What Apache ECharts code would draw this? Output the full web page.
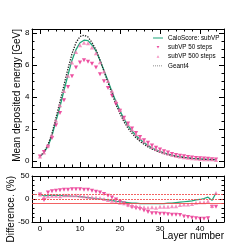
<!DOCTYPE html>
<html><head><meta charset="utf-8">
<script src="https://cdn.jsdelivr.net/npm/echarts@6/dist/echarts.min.js"></script>
<style>html,body{margin:0;padding:0;background:#fff}#c{width:249px;height:249px}</style>
</head><body><div id="c"></div>
<script>
const layers = [0,1,2,3,4,5,6,7,8,9,10,11,12,13,14,15,16,17,18,19,20,21,22,23,24,25,26,27,28,29,30,31,32,33,34,35,36,37,38,39,40,41,42,43,44];
const geant4 = [0.30,0.55,1.02,1.72,2.72,3.70,4.75,5.78,6.70,7.40,7.78,7.86,7.75,7.40,6.95,6.30,5.60,4.90,4.20,3.52,2.95,2.45,2.05,1.72,1.45,1.23,1.04,0.88,0.74,0.63,0.54,0.46,0.39,0.33,0.28,0.24,0.21,0.18,0.155,0.135,0.12,0.105,0.095,0.085,0.075];
const caloScore = [0.27,0.51,0.94,1.58,2.50,3.40,4.42,5.38,6.30,6.96,7.39,7.55,7.52,7.25,6.88,6.30,5.66,5.00,4.33,3.70,3.13,2.62,2.21,1.87,1.58,1.35,1.14,0.97,0.81,0.69,0.59,0.51,0.43,0.36,0.30,0.26,0.22,0.19,0.16,0.14,0.12,0.10,0.09,0.09,0.065];
const steps50 = [0.27,0.56,0.88,1.43,2.23,3.00,3.80,4.62,5.29,5.85,6.15,6.29,6.20,6.07,5.84,5.42,4.98,4.56,4.07,3.56,3.13,2.70,2.34,2.03,1.74,1.50,1.30,1.13,0.97,0.83,0.71,0.61,0.52,0.44,0.375,0.32,0.29,0.25,0.22,0.19,0.17,0.15,0.135,0.10,0.088];
const steps500 = [0.27,0.52,0.96,1.60,2.53,3.48,4.37,5.32,6.16,6.81,7.24,7.39,7.36,7.10,6.74,6.17,5.60,5.00,4.37,3.73,3.19,2.67,2.30,1.96,1.67,1.44,1.23,1.05,0.87,0.75,0.63,0.54,0.46,0.38,0.325,0.27,0.235,0.20,0.17,0.146,0.128,0.112,0.10,0.098,0.065];
const diffCalo = [10,7,8,8,8,8,7,7,6,6,5,4,3,2,1,0,-1,-2,-3,-5,-6,-7,-8,-9,-9,-10,-10,-10,-10,-10,-10,-10,-9,-9,-8,-7,-6,-5,-4,-2,-1,1,4,-3,13];
const diff50 = [10,-2,14,17,18,19,20,20,21,21,21,20,20,18,16,14,11,7,3,-1,-6,-10,-14,-18,-20,-22,-25,-28,-31,-31,-32,-32,-33,-34,-34,-35,-38,-39,-41,-42,-43,-43,-42,-17,-17];
const diff500 = [10,5,6,7,7,6,8,8,8,8,7,6,5,4,3,2,0,-2,-4,-6,-8,-9,-12,-14,-15,-17,-18,-19,-18,-19,-17,-17,-17,-16,-16,-13,-12,-12,-11,-8,-7,-7,-5,-15,13];
const xMajorTicks = [0,10,20,30,40];
const xMinorTicks = [2,4,6,8,12,14,16,18,22,24,26,28,32,34,36,38,42,44];
const yTopMajorTicks = [0,2,4,6,8];
const yTopMinorTicks = [0.5,1,1.5,2.5,3,3.5,4.5,5,5.5,6.5,7,7.5];
const yLowMajorTicks = [-50,0,50];
const yLowMinorTicks = [-40,-30,-20,-10,10,20,30,40];
const refLines = [10,0,-10];

const cGreen = '#1fa67a', cDown = '#e8258a', cUp = '#f276b0', cRef = '#f04848';
const pairs = arr => layers.map((l,i)=>[l,arr[i]]);
const downTri = 'path://M0,0L10,0L5,9Z';
const BOX = 'M0,0L0,0.01M10,7L10,7.01';
const iconLine = 'path://' + BOX + 'M0,3.1h10v0.9h-10z';
const iconDots = 'path://' + BOX + 'M0,3.1h1v0.8h-1zM2,3.1h1v0.8h-1zM4,3.1h1v0.8h-1zM6,3.1h1v0.8h-1zM8,3.1h1v0.8h-1z';
const iconDown = 'path://' + BOX + 'M3.6,2.1L6.4,2.1L5,4.7Z';
const iconUp = 'path://' + BOX + 'M5,2.1L6.4,4.7L3.6,4.7Z';

function axis(grid, pos, min, max, ticks, len, labels, showLine){
  return {
    type:'value', gridIndex:grid, position:pos, min:min, max:max,
    axisLine:{show:showLine, onZero:false, lineStyle:{color:'#000',width:1}},
    axisTick:{show:true, inside:true, length:len, customValues:ticks, lineStyle:{color:'#000',width:1}},
    axisLabel:{show:!!labels, customValues:ticks, fontSize:8, color:'#000', margin:2.5, fontFamily:'Liberation Sans, Arial, sans-serif'},
    splitLine:{show:false}, minorTick:{show:false}
  };
}
const xAxes = [];
const yAxes = [];
[0,1].forEach(g=>{
  xAxes.push(axis(g,'bottom',-2,46,xMajorTicks,5,g===1,true));
  xAxes.push(axis(g,'bottom',-2,46,xMinorTicks,2.5,false,false));
  xAxes.push(axis(g,'top',-2,46,xMajorTicks,5,false,true));
  xAxes.push(axis(g,'top',-2,46,xMinorTicks,2.5,false,false));
});
const yr = [[-0.38,8.25,yTopMajorTicks,yTopMinorTicks],[-50,50,yLowMajorTicks,yLowMinorTicks]];
[0,1].forEach(g=>{
  const [mn,mx,maj,mnr] = yr[g];
  yAxes.push(axis(g,'left',mn,mx,maj,5,true,true));
  yAxes.push(axis(g,'left',mn,mx,mnr,2.5,false,false));
  yAxes.push(axis(g,'right',mn,mx,maj,5,false,true));
  yAxes.push(axis(g,'right',mn,mx,mnr,2.5,false,false));
});

const chart = echarts.init(document.getElementById('c'), null, {renderer:'canvas'});
const font = 'Liberation Sans, Arial, sans-serif';
chart.setOption({
  animation:false,
  backgroundColor:'#fff',
  grid:[
    {left:32, right:25, top:29, height:138},
    {left:32, right:25, top:176, height:46}
  ],
  xAxis:xAxes,
  yAxis:yAxes,
  legend:{
    orient:'vertical', left:153, top:34, padding:0, itemGap:1.3,
    itemWidth:10, itemHeight:7, symbolRotate:0,
    textStyle:{fontSize:6.3, color:'#000', fontFamily:font, lineHeight:8},
    data:[
      {name:'CaloScore: subVP', icon:iconLine, itemStyle:{color:cGreen}},
      {name:'subVP 50 steps', icon:iconDown, itemStyle:{color:cDown}},
      {name:'subVP 500 steps', icon:iconUp, itemStyle:{color:cUp}},
      {name:'Geant4', icon:iconDots, itemStyle:{color:'#666'}}
    ]
  },
  graphic:[
    {type:'text', x:17, y:29, rotation:Math.PI/2, style:{text:'Mean deposited energy [GeV]', font:'10px '+font, fill:'#000', align:'right', verticalAlign:'middle'}},
    {type:'text', x:11.5, y:176, rotation:Math.PI/2, style:{text:'Difference. (%)', font:'10px '+font, fill:'#000', align:'right', verticalAlign:'middle'}},
    {type:'text', x:224, y:236, style:{text:'Layer number', font:'10px '+font, fill:'#000', align:'right', verticalAlign:'middle'}}
  ],
  series:[
    {name:'CaloScore: subVP', type:'line', xAxisIndex:0, yAxisIndex:0, data:pairs(caloScore), symbol:'none',
     lineStyle:{color:cGreen,width:1.3}, itemStyle:{color:cGreen}, z:2},
    {name:'Geant4', type:'line', xAxisIndex:0, yAxisIndex:0, data:pairs(geant4), symbol:'none',
     lineStyle:{color:'#222',width:1.3,type:'dotted'}, itemStyle:{color:'#666'}, z:3},
    {name:'subVP 50 steps', type:'scatter', xAxisIndex:0, yAxisIndex:0, data:pairs(steps50), symbol:downTri, symbolSize:[4.2,4],
     itemStyle:{color:cDown}, z:4},
    {name:'subVP 500 steps', type:'scatter', xAxisIndex:0, yAxisIndex:0, data:pairs(steps500), symbol:'triangle', symbolSize:[4.2,4],
     itemStyle:{color:cUp}, z:4},
    {name:'CaloScore: subVP', type:'line', xAxisIndex:4, yAxisIndex:4, data:pairs(diffCalo), symbol:'none',
     lineStyle:{color:cGreen,width:1.2}, itemStyle:{color:cGreen}, z:3,
     markLine:{silent:true, symbol:['none','none'], label:{show:false},
       data:refLines.map(v=>({yAxis:v, lineStyle:{color:cRef, width:1, opacity:0.85, type: v===-10?'solid':[2,1]}}))}},
    {name:'subVP 50 steps', type:'scatter', xAxisIndex:4, yAxisIndex:4, data:pairs(diff50), symbol:downTri, symbolSize:[4.2,4],
     itemStyle:{color:cDown}, z:4},
    {name:'subVP 500 steps', type:'scatter', xAxisIndex:4, yAxisIndex:4, data:pairs(diff500), symbol:'triangle', symbolSize:[4.2,4],
     itemStyle:{color:cUp}, z:4}
  ]
});
</script></body></html>
